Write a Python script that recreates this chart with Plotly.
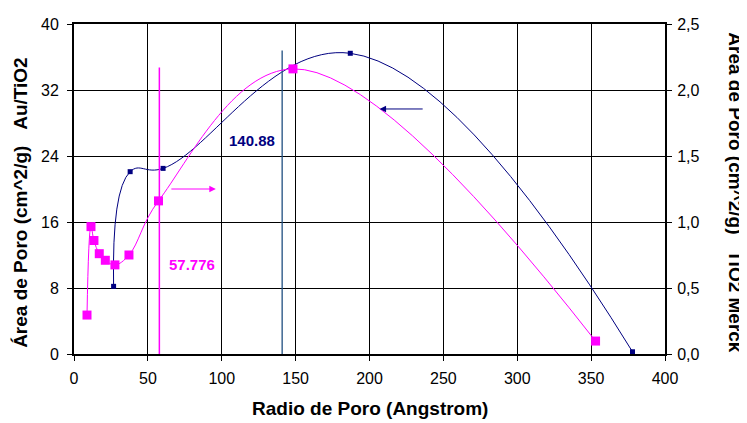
import plotly.graph_objects as go

# Au/TiO2 (left axis)
au_x = [26.8, 38.0, 60.3, 187.0, 378.0]
au_y = [8.2, 22.1, 22.5, 36.45, 0.27]

# TiO2 Merck (right axis)
merck_x = [8.8, 11.5, 13.5, 17.1, 21.2, 27.7, 37.2, 57.2, 148.2, 353.0]
merck_y = [0.295, 0.965, 0.86, 0.76, 0.71, 0.675, 0.75, 1.16, 2.16, 0.098]

# marker vertical lines
au_peak = 140.88
merck_peak = 57.776
au_peak_top = 36.8
merck_peak_top = 2.17

x_ticks = [0, 50, 100, 150, 200, 250, 300, 350, 400]
y_ticks = [0, 8, 16, 24, 32, 40]
y2_ticks = [0, 0.5, 1.0, 1.5, 2.0, 2.5]
y2_ticktext = ["0,0", "0,5", "1,0", "1,5", "2,0", "2,5"]

x_title = "Radio de Poro (Angstrom)"
y_title = "Área de Poro (cm^2/g)\u00a0\u00a0\u00a0Au/TiO2"
y2_title = "Área de Poro (cm^2/g)\u00a0\u00a0\u00a0TiO2 Merck"

NAVY = "#000080"
MAG = "#FF00FF"
VBLUE = "#1F4E80"
FONT = "Liberation Sans, Arial, sans-serif"

fig = go.Figure()
fig.add_trace(go.Scatter(x=au_x, y=au_y, mode="lines+markers",
                         line=dict(color=NAVY, width=1, shape="spline", smoothing=1.2),
                         marker=dict(symbol="square", size=5, color=NAVY),
                         yaxis="y", showlegend=False))
fig.add_trace(go.Scatter(x=merck_x, y=merck_y, mode="lines+markers",
                         line=dict(color=MAG, width=1, shape="spline", smoothing=1.1),
                         marker=dict(symbol="square", size=9, color=MAG),
                         yaxis="y2", showlegend=False))
fig.add_trace(go.Scatter(x=[au_peak, au_peak], y=[0, au_peak_top], mode="lines",
                         line=dict(color=VBLUE, width=1.3), yaxis="y", showlegend=False))
fig.add_trace(go.Scatter(x=[merck_peak, merck_peak], y=[0, merck_peak_top], mode="lines",
                         line=dict(color=MAG, width=1.5), yaxis="y2", showlegend=False))

fig.add_annotation(x=120.3, y=25.9, xref="x", yref="y", text="<b>140.88</b>",
                   showarrow=False, font=dict(color=NAVY, size=15, family=FONT))
fig.add_annotation(x=79.7, y=10.9, xref="x", yref="y", text="<b>57.776</b>",
                   showarrow=False, font=dict(color=MAG, size=15, family=FONT))
# arrows
fig.add_annotation(x=96.0, y=20.0, ax=64.9, ay=20.0, xref="x", yref="y", axref="x", ayref="y",
                   text="", showarrow=True, arrowhead=2, arrowsize=1.3, arrowwidth=1, arrowcolor=MAG)
fig.add_annotation(x=206.8, y=29.7, ax=237.0, ay=29.7, xref="x", yref="y", axref="x", ayref="y",
                   text="", showarrow=True, arrowhead=2, arrowsize=1.3, arrowwidth=1, arrowcolor=NAVY)

# axis titles
fig.add_annotation(x=0.5, y=0, xref="paper", yref="paper", yshift=-54, text="<b>%s</b>" % x_title,
                   showarrow=False, font=dict(size=19, family=FONT, color="black"),
                   xanchor="center", yanchor="middle")
fig.add_annotation(x=0, y=0.458, xref="paper", yref="paper", xshift=-53, text="<b>%s</b>" % y_title,
                   showarrow=False, textangle=-90, font=dict(size=19, family=FONT, color="black"),
                   xanchor="center", yanchor="middle")
fig.add_annotation(x=1, y=0.49, xref="paper", yref="paper", xshift=71, text="<b>%s</b>" % y2_title,
                   showarrow=False, textangle=90, font=dict(size=19, family=FONT, color="black"),
                   xanchor="center", yanchor="middle")

fig.update_layout(
    width=739, height=415,
    margin=dict(l=66, r=82, t=16, b=69),
    paper_bgcolor="white", plot_bgcolor="white",
    font=dict(family=FONT, size=16, color="black"),
    xaxis=dict(range=[0, 400], tickvals=x_ticks, showgrid=True, gridcolor="black", gridwidth=1,
               showline=True, linecolor="black", linewidth=2, mirror=True, automargin=False,
               ticks="outside", ticklen=5, tickcolor="black", zeroline=False, ticklabelstandoff=4),
    yaxis=dict(range=[0, 40], tickvals=y_ticks, showgrid=True, gridcolor="black", gridwidth=1,
               showline=True, linecolor="black", linewidth=2, automargin=False,
               ticks="outside", ticklen=5, tickcolor="black", zeroline=False, ticklabelstandoff=5),
    yaxis2=dict(range=[0, 2.5], tickvals=y2_ticks, ticktext=y2_ticktext, overlaying="y", side="right",
                showgrid=False, showline=True, linecolor="black", linewidth=2, automargin=False,
                ticks="outside", ticklen=5, tickcolor="black", zeroline=False, ticklabelstandoff=2),
)

fig.write_html("out.html")
